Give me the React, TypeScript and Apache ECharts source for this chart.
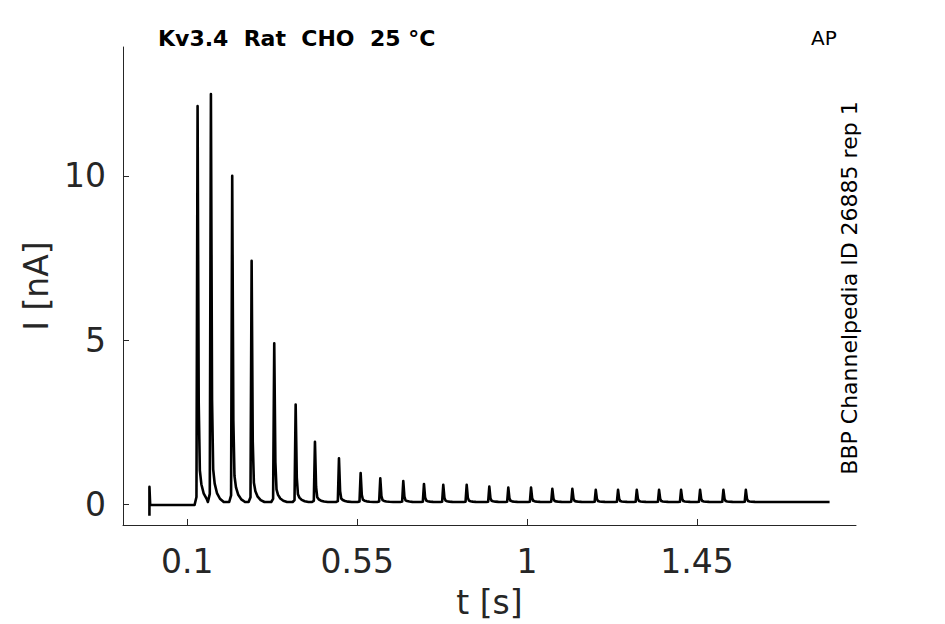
import React, { useEffect, useRef } from "react";
import * as echarts from "echarts";

// ---- data ----
const xTickValues = [0.1, 0.55, 1, 1.45];
const xTickLabels = ["0.1", "0.55", "1", "1.45"];
const yTickValues = [0, 5, 10];
const yTickLabels = ["0", "5", "10"];

// time of each current peak [s]
const spikeTimes = [
  0.1275, 0.1628, 0.2192, 0.2706, 0.3305, 0.3872, 0.4383, 0.5019, 0.5593,
  0.6113, 0.6722, 0.727, 0.7781, 0.8401, 0.9, 0.9503, 1.0105, 1.0669, 1.1199,
  1.1819, 1.2409, 1.2905, 1.3495, 1.4078, 1.4581, 1.5199, 1.5793,
];
// absolute peak current [nA]
const spikePeaks = [
  12.12, 12.49, 10.0, 7.41, 4.9, 3.04, 1.9, 1.4, 0.95, 0.79, 0.71, 0.62, 0.59,
  0.59, 0.54, 0.51, 0.51, 0.47, 0.47, 0.44, 0.44, 0.44, 0.44, 0.44, 0.44, 0.44,
  0.44,
];
// sampled shape of one transient (offset from peak [s], fraction of peak above rest)
const shapeOffsets = [-0.008, -0.003, 0, 0.003, 0.006, 0.01, 0.016, 0.024, 0.034];
const shapeFractions = [0, 0.02, 1, 0.25, 0.08, 0.045, 0.022, 0.008, 0];
// stimulus artifact at trace start [t, I]
const artifact = [
  [0, -0.35],
  [0, 0.53],
  [0.002, -0.02],
];
const restBefore = -0.02;
const restAfter = 0.07;
const traceEnd = 1.801;

function buildTrace(): number[][] {
  const pts: number[][] = artifact.map((p) => [p[0], p[1]]);
  for (let i = 0; i < spikeTimes.length; i++) {
    const nextStart =
      i + 1 < spikeTimes.length ? spikeTimes[i + 1] + shapeOffsets[0] : Infinity;
    for (let k = 0; k < shapeOffsets.length; k++) {
      const t = spikeTimes[i] + shapeOffsets[k];
      if (t >= nextStart) break;
      const base = i === 0 && k < 2 ? restBefore : restAfter;
      pts.push([t, base + (spikePeaks[i] - base) * shapeFractions[k]]);
    }
  }
  pts.push([traceEnd, restAfter]);
  return pts;
}

const FONT = "DejaVu Sans";
const AXIS_COLOR = "#262626";

export default function App() {
  const ref = useRef<HTMLDivElement>(null);
  useEffect(() => {
    if (!ref.current) return;
    const chart = echarts.init(ref.current, null, { renderer: "svg" });
    chart.setOption({
      animation: false,
      backgroundColor: "#ffffff",
      grid: { left: 123, top: 47, right: 89, bottom: 99, containLabel: false },
      xAxis: {
        type: "value",
        min: -0.07,
        max: 1.871,
        name: "t [s]",
        nameLocation: "middle",
        nameGap: 61,
        nameTextStyle: { fontFamily: FONT, fontSize: 33, color: AXIS_COLOR },
        axisLine: {
          show: true,
          onZero: false,
          lineStyle: { color: AXIS_COLOR, width: 1 },
        },
        axisTick: {
          show: true,
          inside: true,
          length: 6,
          customValues: xTickValues,
          lineStyle: { color: AXIS_COLOR },
        },
        axisLabel: {
          customValues: xTickValues,
          formatter: (v: number) => xTickLabels[xTickValues.indexOf(v)] ?? "",
          fontFamily: FONT,
          fontSize: 33,
          color: AXIS_COLOR,
          margin: 20,
        },
        splitLine: { show: false },
      },
      yAxis: {
        type: "value",
        min: -0.63,
        max: 13.92,
        name: "I [nA]",
        nameLocation: "middle",
        nameGap: 67,
        nameTextStyle: { fontFamily: FONT, fontSize: 33, color: AXIS_COLOR },
        axisLine: {
          show: true,
          onZero: false,
          lineStyle: { color: AXIS_COLOR, width: 1 },
        },
        axisTick: {
          show: true,
          inside: true,
          length: 6,
          customValues: yTickValues,
          lineStyle: { color: AXIS_COLOR },
        },
        axisLabel: {
          customValues: yTickValues,
          formatter: (v: number) => yTickLabels[yTickValues.indexOf(v)] ?? "",
          fontFamily: FONT,
          fontSize: 33,
          color: AXIS_COLOR,
          margin: 17,
        },
        splitLine: { show: false },
      },
      series: [
        {
          type: "line",
          data: buildTrace(),
          showSymbol: false,
          symbol: "none",
          lineStyle: { color: "#000000", width: 2.6, join: "round" },
          silent: true,
        },
      ],
      graphic: [
        {
          type: "text",
          left: 158,
          top: 27,
          style: {
            text: "Kv3.4  Rat  CHO  25 °C",
            fontFamily: FONT,
            fontWeight: "bold",
            fontSize: 22,
            fill: "#000000",
          },
        },
        {
          type: "text",
          left: 811,
          top: 28,
          style: {
            text: "AP",
            fontFamily: FONT,
            fontSize: 20,
            fill: "#000000",
          },
        },
        {
          type: "text",
          x: 849,
          y: 288,
          rotation: Math.PI / 2,
          style: {
            text: "BBP Channelpedia ID 26885 rep 1",
            fontFamily: FONT,
            fontSize: 22,
            fill: "#000000",
            align: "center",
            verticalAlign: "middle",
          },
        },
      ],
    });
    return () => chart.dispose();
  }, []);
  return (
    <div
      ref={ref}
      style={{ position: "fixed", left: 0, top: 0, width: 945, height: 624 }}
    />
  );
}
